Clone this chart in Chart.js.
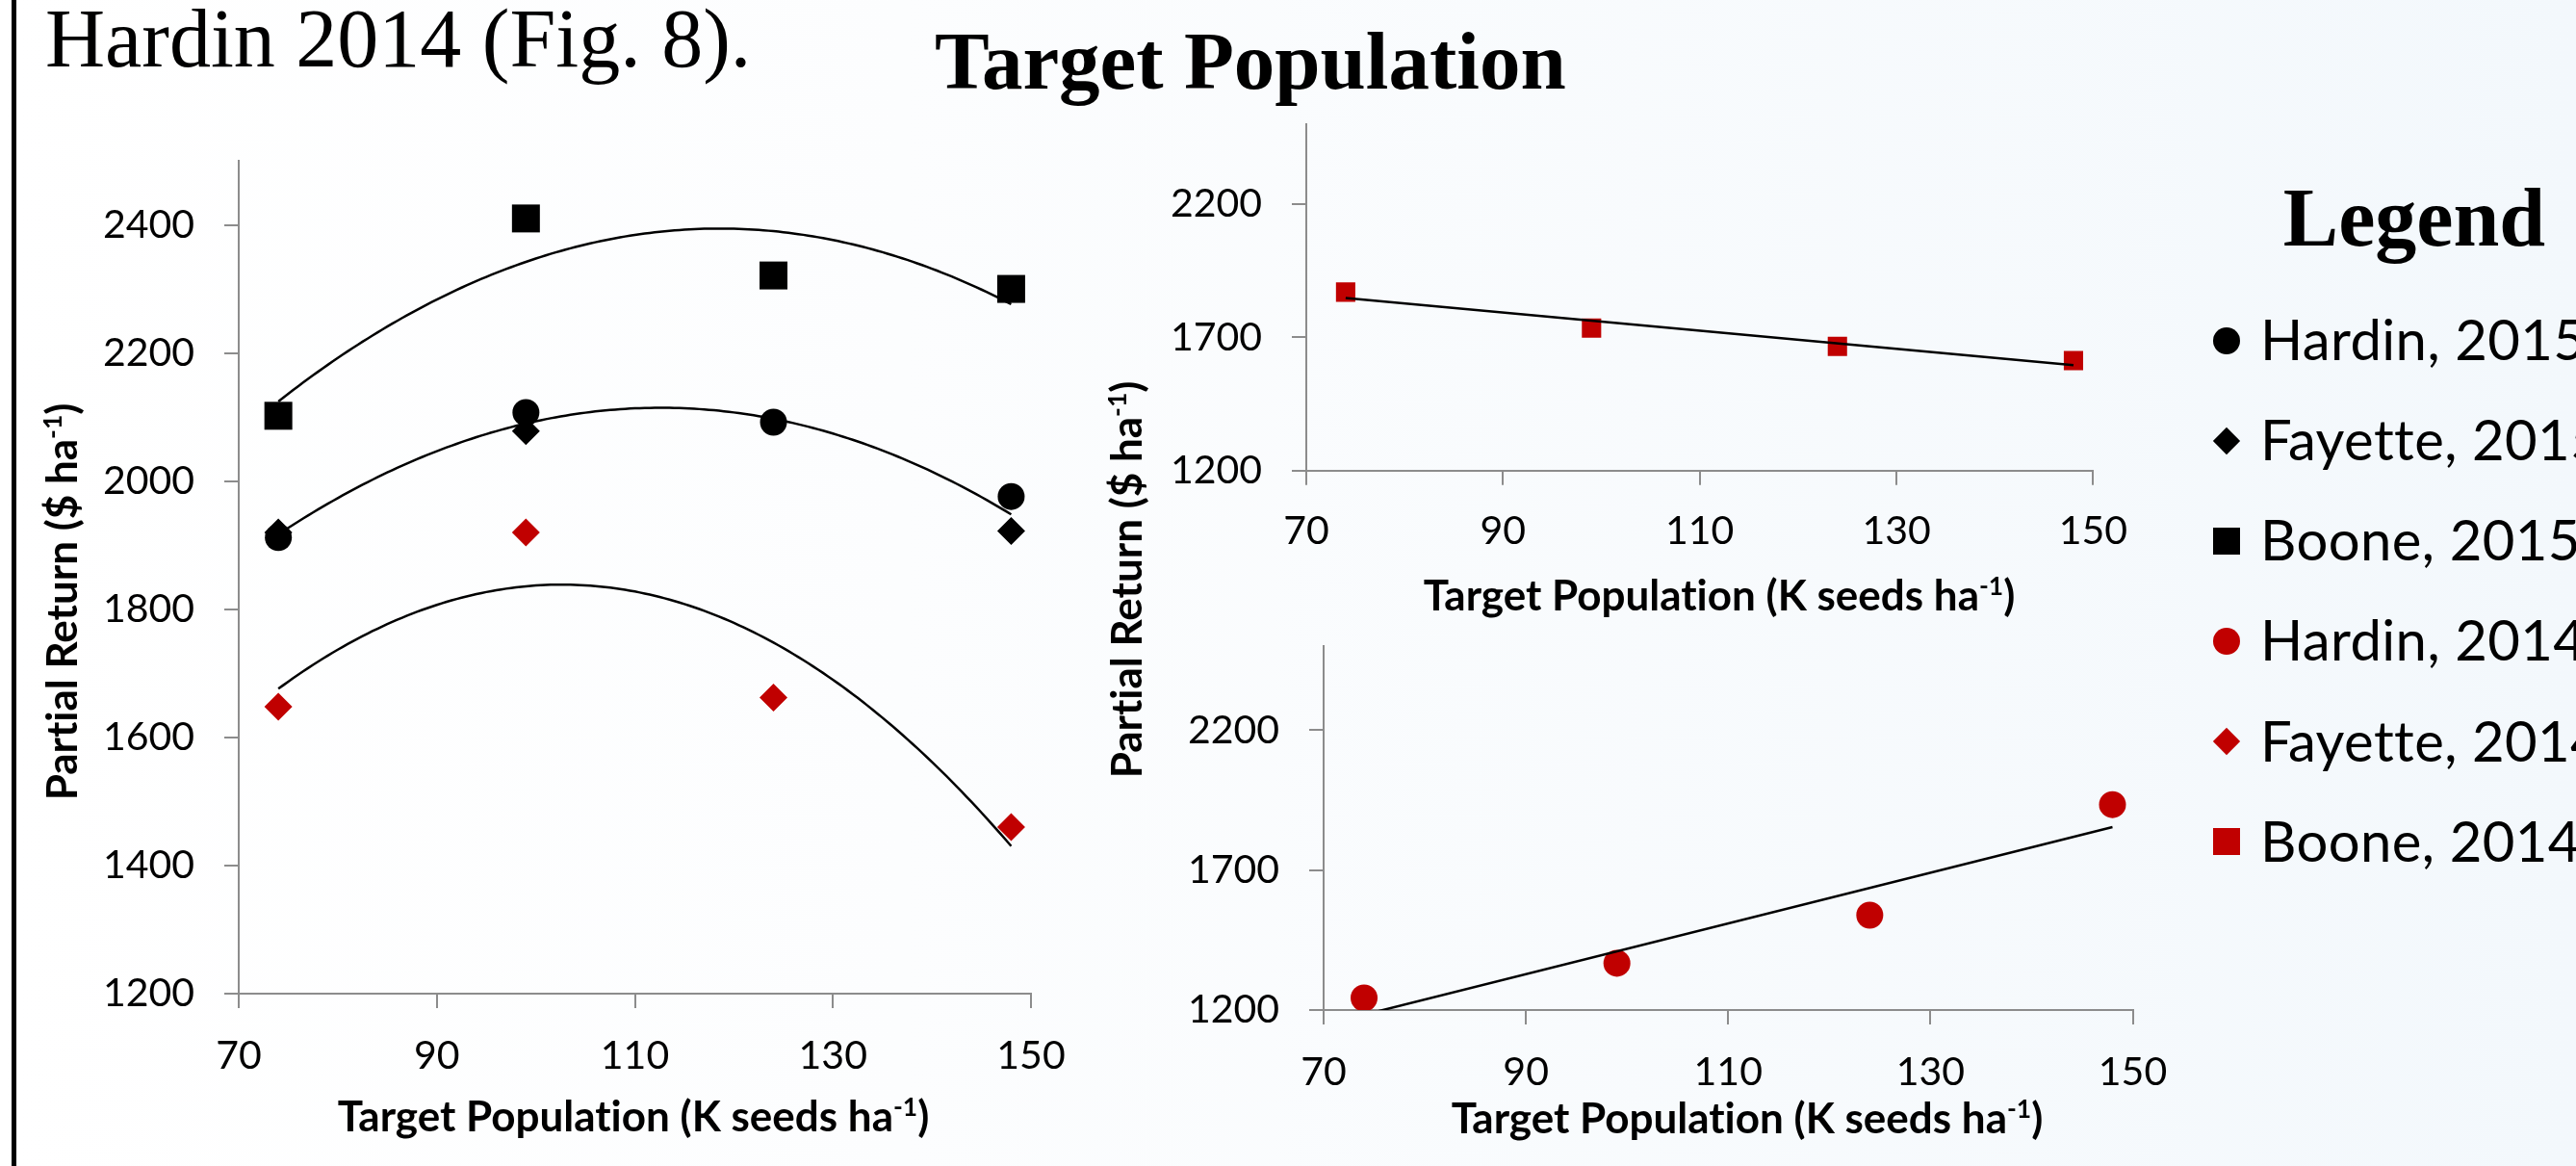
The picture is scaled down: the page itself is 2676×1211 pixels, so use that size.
<!DOCTYPE html>
<html>
<head>
<meta charset="utf-8">
<title>Target Population</title>
<script src="https://cdn.jsdelivr.net/npm/chart.js@4.4.1/dist/chart.umd.min.js"></script>
<style>
  html, body { margin: 0; padding: 0; }
  body {
    width: 2676px; height: 1211px; overflow: hidden; position: relative;
    background: linear-gradient(90deg, #ffffff 0%, #fcfdfe 35%, #f3f8fc 100%);
    font-family: Lato, sans-serif; color: #000;
    font-variant-ligatures: none;
  }
  .frame-line { position: absolute; left: 12px; top: 0; width: 5px; height: 1211px; background: #000; }
  .serif { position: absolute; font-family: 'Liberation Serif', 'Times New Roman', serif; line-height: 1; white-space: nowrap; }
  canvas { position: absolute; }
  .axis-title {
    position: absolute; font: 700 44px Lato, sans-serif; line-height: 44px; height: 44px;
    text-align: center; white-space: nowrap; font-variant-ligatures: none;
  }
  .axis-title sup { font-size: 60%; vertical-align: baseline; position: relative; top: -0.6em; }
  .y-title { width: 700px; transform: rotate(-90deg); }
  .x-title { width: 1000px; }
  .legend-marker { position: absolute; width: 28px; height: 28px; }
  .legend-marker.circle { border-radius: 50%; }
  .legend-marker.diamond { width: 20px; height: 20px; transform: rotate(45deg); }
  .legend-text {
    position: absolute; left: 2348px; font: 400 58px Lato, sans-serif; line-height: 58px;
    white-space: nowrap; font-variant-ligatures: none; letter-spacing: 0.4px;
  }
  .overlay { z-index: 5; }
</style>
</head>
<body>
<div class="frame-line"></div>
<div class="serif" style="left:47px; top:-3px; font-size:86px;">Hardin 2014 (Fig. 8).</div>
<div class="serif" style="left:971px; top:21px; font-size:85px; font-weight:700;">Target Population</div>

<canvas id="leftChart" width="1150" height="1211" style="left:0; top:0;"></canvas>
<canvas id="topRightChart" width="1100" height="655" style="left:1150px; top:0;"></canvas>
<canvas id="bottomRightChart" width="1250" height="556" style="left:1150px; top:655px;"></canvas>

<div class="axis-title y-title" style="left:-287px; top:603px;">Partial Return ($ ha<sup>-1</sup>)</div>
<div class="axis-title y-title" style="left:819px; top:580px;">Partial Return ($ ha<sup>-1</sup>)</div>
<div class="axis-title x-title" style="left:158px; top:1136px;">Target Population (K seeds ha<sup>-1</sup>)</div>
<div class="axis-title x-title" style="left:1286px; top:595px;">Target Population (K seeds ha<sup>-1</sup>)</div>
<div class="axis-title x-title" style="left:1315px; top:1138px;">Target Population (K seeds ha<sup>-1</sup>)</div>

<div class="overlay">
  <div class="serif" style="left:2308px; width:400px; text-align:center; top:183px; font-size:86px; font-weight:700;">Legend</div>

  <div class="legend-marker circle" style="left:2299px; top:340px; background:#000;"></div>
  <div class="legend-text" style="top:323px;">Hardin, 2015</div>

  <div class="legend-marker diamond" style="left:2303px; top:448px; background:#000;"></div>
  <div class="legend-text" style="top:427px;">Fayette, 2015</div>

  <div class="legend-marker" style="left:2299px; top:548px; background:#000;"></div>
  <div class="legend-text" style="top:531px;">Boone, 2015</div>

  <div class="legend-marker circle" style="left:2299px; top:652px; background:#C00000;"></div>
  <div class="legend-text" style="top:635px;">Hardin, 2014</div>

  <div class="legend-marker diamond" style="left:2303px; top:760px; background:#C00000;"></div>
  <div class="legend-text" style="top:740px;">Fayette, 2014</div>

  <div class="legend-marker" style="left:2299px; top:860px; background:#C00000;"></div>
  <div class="legend-text" style="top:844px;">Boone, 2014</div>
</div>

<script>
// Seeding rates (K seeds/ha) and partial returns ($/ha) per site-year
const populations = [74, 99, 124, 148];
const hardin2015  = [1912, 2107, 2092, 1976];
const fayette2015 = [1920, 2078, null, 1922];
const boone2015   = [2102, 2410, 2321, 2300];
const fayette2014 = [1648, 1920, 1662, 1460];
const boone2014   = [1870, 1735, 1666, 1613];
const hardin2014  = [1243, 1367, 1539, 1934];

// Axis tick values
const xTickValues = [70, 90, 110, 130, 150];
const yTicksLeft  = [1200, 1400, 1600, 1800, 2000, 2200, 2400];
const yTicksRight = [1200, 1700, 2200];

const BLACK = '#000000';
const RED = '#C00000';
const AXIS_GRAY = '#8c8c8c';

Chart.defaults.font.family = 'Lato';

function toPoints(xs, ys) {
  return xs.map((x, i) => ({ x: x, y: ys[i] })).filter(p => p.y !== null);
}

// Least-squares polynomial trendline through a set of points
function polyFit(pts, degree) {
  const n = degree + 1;
  const mx = pts.reduce((s, p) => s + p.x, 0) / pts.length;
  const M = Array.from({ length: n }, () => new Array(n + 1).fill(0));
  pts.forEach(p => {
    const u = p.x - mx;
    for (let r = 0; r < n; r++) {
      for (let c = 0; c < n; c++) M[r][c] += Math.pow(u, r + c);
      M[r][n] += Math.pow(u, r) * p.y;
    }
  });
  for (let i = 0; i < n; i++) {
    let piv = i;
    for (let r = i + 1; r < n; r++) if (Math.abs(M[r][i]) > Math.abs(M[piv][i])) piv = r;
    [M[i], M[piv]] = [M[piv], M[i]];
    for (let r = 0; r < n; r++) {
      if (r === i) continue;
      const f = M[r][i] / M[i][i];
      for (let c = i; c <= n; c++) M[r][c] -= f * M[i][c];
    }
  }
  const coef = M.map((row, i) => row[n] / row[i]);
  return x => coef.reduce((s, c, k) => s + c * Math.pow(x - mx, k), 0);
}

function trendline(pts, degree) {
  const f = polyFit(pts, degree);
  const xs = pts.map(p => p.x);
  const x0 = Math.min(...xs), x1 = Math.max(...xs);
  const steps = degree === 1 ? 1 : 148;
  const out = [];
  for (let k = 0; k <= steps; k++) {
    const x = x0 + (x1 - x0) * k / steps;
    out.push({ x: x, y: f(x) });
  }
  return out;
}

function markers(data, style, radius, color, order) {
  return {
    data: data, pointStyle: style, pointRadius: radius, pointHoverRadius: radius,
    pointBackgroundColor: color, pointBorderWidth: 0, backgroundColor: color,
    borderColor: color, showLine: false, order: order
  };
}

function fitLine(data) {
  return {
    data: data, showLine: true, borderColor: BLACK, borderWidth: 2.5,
    pointRadius: 0, pointHoverRadius: 0, fill: false, tension: 0, order: 0
  };
}

function chartOptions(cfg) {
  const tickFont = { family: 'Lato', size: 41 };
  return {
    responsive: false, animation: false, devicePixelRatio: 1,
    layout: { padding: cfg.padding },
    plugins: { legend: { display: false }, tooltip: { enabled: false } },
    events: [],
    scales: {
      x: {
        type: 'linear', position: 'bottom', min: 70, max: 150,
        afterBuildTicks: s => { s.ticks = xTickValues.map(v => ({ value: v })); },
        afterFit: s => { s.height = cfg.xHeight; s.paddingLeft = 0; s.paddingRight = 0; },
        grid: { drawOnChartArea: false, drawTicks: true, tickLength: 15, color: AXIS_GRAY, lineWidth: 2 },
        border: { display: true, color: AXIS_GRAY, width: 2 },
        ticks: { font: tickFont, color: BLACK, padding: cfg.xLabelPad, maxRotation: 0, autoSkip: false,
                 callback: v => String(v) }
      },
      y: {
        type: 'linear', position: 'left', min: 1200, max: 2500,
        afterBuildTicks: s => { s.ticks = cfg.yTicks.map(v => ({ value: v })); },
        afterFit: s => { s.width = cfg.yWidth; s.paddingTop = 0; s.paddingBottom = 0; },
        grid: { drawOnChartArea: false, drawTicks: true, tickLength: 15, color: AXIS_GRAY, lineWidth: 2 },
        border: { display: true, color: AXIS_GRAY, width: 2 },
        ticks: { font: tickFont, color: BLACK, padding: 31, autoSkip: false,
                 callback: v => String(v) }
      }
    }
  };
}

// Left panel: 2015 sites plus Fayette 2014, quadratic trendlines
const pHardin15 = toPoints(populations, hardin2015);
const pFayette15 = toPoints(populations, fayette2015);
const pBoone15 = toPoints(populations, boone2015);
const pFayette14 = toPoints(populations, fayette2014);

new Chart(document.getElementById('leftChart'), {
  type: 'scatter',
  data: {
    datasets: [
      fitLine(trendline(pBoone15, 2)),
      fitLine(trendline(pHardin15.concat(pFayette15), 2)),
      fitLine(trendline(pFayette14, 2)),
      markers(pBoone15, 'rect', 20.5, BLACK, 1),
      markers(pHardin15, 'circle', 14, BLACK, 1),
      markers(pFayette15, 'rectRot', 14.5, BLACK, 2),
      markers(pFayette14, 'rectRot', 14.5, RED, 2)
    ]
  },
  options: chartOptions({
    padding: { left: 0, top: 167, right: 79, bottom: 0 },
    yWidth: 248, xHeight: 179, xLabelPad: 25, yTicks: yTicksLeft
  })
});

// Top right panel: Boone 2014, linear trendline
const pBoone14 = toPoints(populations, boone2014);
new Chart(document.getElementById('topRightChart'), {
  type: 'scatter',
  data: {
    datasets: [
      fitLine(trendline(pBoone14, 1)),
      markers(pBoone14, 'rect', 14.2, RED, 1)
    ]
  },
  options: chartOptions({
    padding: { left: 0, top: 129, right: 75.6, bottom: 0 },
    yWidth: 207, xHeight: 166.2, xLabelPad: 23.5, yTicks: yTicksRight
  })
});

// Bottom right panel: Hardin 2014, linear trendline
const pHardin14 = toPoints(populations, hardin2014);
new Chart(document.getElementById('bottomRightChart'), {
  type: 'scatter',
  data: {
    datasets: [
      fitLine(trendline(pHardin14, 1)),
      markers(pHardin14, 'circle', 14, RED, 1)
    ]
  },
  options: chartOptions({
    padding: { left: 0, top: 16.2, right: 184.5, bottom: 0 },
    yWidth: 225, xHeight: 162, xLabelPad: 25.5, yTicks: yTicksRight
  })
});
</script>
</body>
</html>
